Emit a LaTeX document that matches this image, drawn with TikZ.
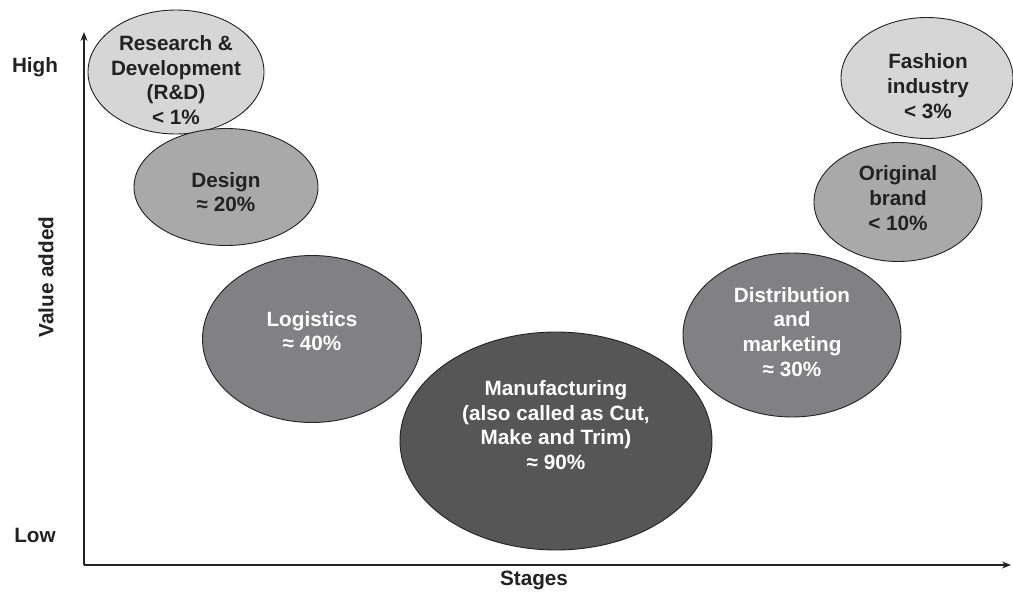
\documentclass[tikz,border=0pt]{standalone}
\usepackage{fontspec}
\setmainfont{Liberation Sans}
\usetikzlibrary{shapes.geometric,arrows.meta}
\definecolor{lightfill}{HTML}{D6D6D6}
\definecolor{midfill}{HTML}{A9A9A9}
\definecolor{darkfill}{HTML}{818183}
\definecolor{deepfill}{HTML}{565657}
\definecolor{inkdark}{HTML}{222222}
\tikzset{
  stage/.style={ellipse, draw=inkdark, line width=0.9pt, inner sep=0pt},
  txt/.style={align=center, font=\bfseries\fontsize{20.7}{24.8}\selectfont, inner sep=0pt},
  axislabel/.style={font=\bfseries\fontsize{20.7}{24}\selectfont, text=inkdark, inner sep=0pt},
  axis/.style={line width=1.1pt, draw=inkdark, -{Stealth[length=9pt,width=7pt]}}
}
\begin{document}
\begin{tikzpicture}[x=1pt,y=-1pt]
\useasboundingbox (0,0) rectangle (1013,592);

% value-chain stages, each an ellipse with its share
\node[stage, fill=lightfill, minimum width=176pt, minimum height=124pt] (rd) at (176,72) {};
\node[txt, text=inkdark] (rdt) at (176,80) {Research \&\\Development\\(R\&D)\\< 1\%};

\node[stage, fill=midfill, minimum width=184pt, minimum height=117pt] (design) at (226,187) {};
\node[txt, text=inkdark] (designt) at (226,192) {Design\\≈ 20\%};

\node[stage, fill=darkfill, minimum width=219pt, minimum height=167pt] (logi) at (312,339) {};
\node[txt, text=white] (logit) at (312,331) {Logistics\\≈ 40\%};

\node[stage, fill=deepfill, minimum width=312pt, minimum height=218pt] (manu) at (556,441) {};
\node[txt, text=white] (manut) at (556,425) {Manufacturing\\(also called as Cut,\\Make and Trim)\\≈ 90\%};

\node[stage, fill=darkfill, minimum width=218pt, minimum height=164pt] (dist) at (792,335) {};
\node[txt, text=white] (distt) at (792,332) {Distribution\\and\\marketing\\≈ 30\%};

\node[stage, fill=midfill, minimum width=168pt, minimum height=119pt] (brand) at (898,202) {};
\node[txt, text=inkdark] (brandt) at (898,198) {Original\\brand\\< 10\%};

\node[stage, fill=lightfill, minimum width=172pt, minimum height=121pt] (fashion) at (927,78) {};
\node[txt, text=inkdark] (fashiont) at (928,86) {Fashion\\industry\\< 3\%};

% axes
\coordinate (origin) at (84,565);
\coordinate (ytip) at (84,32);
\coordinate (xtip) at (1011,565);
\draw[axis] (origin) -- (ytip);
\draw[axis] (origin) -- (xtip);

\node[axislabel] (high) at (35,67) {High};
\node[axislabel] (low) at (35,535) {Low};
\node[axislabel, rotate=90] (value) at (46,277) {Value added};
\node[axislabel] (stages) at (534,580) {Stages};
\end{tikzpicture}
\end{document}
